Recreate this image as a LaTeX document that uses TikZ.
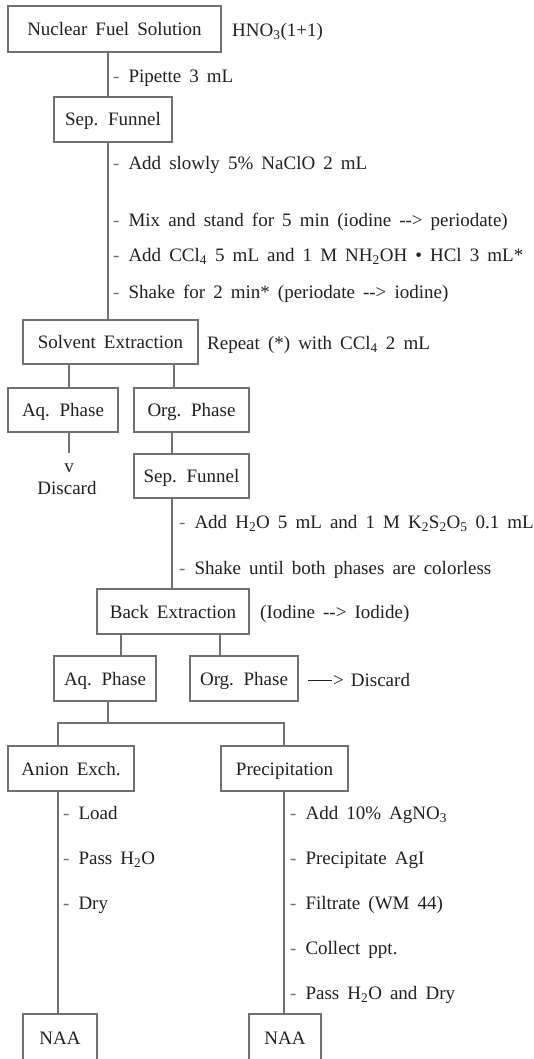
\documentclass[tikz,border=0pt]{standalone}
\usepackage{fontspec}
\setmainfont[WordSpace=1.7]{Liberation Serif}
\definecolor{linegray}{HTML}{707070}
\definecolor{txt}{HTML}{202020}
\definecolor{dashc}{HTML}{707070}
\newcommand\diagfont{\fontsize{19}{22}\selectfont}
\newcommand\stp[1]{\textcolor{dashc}{-}\hspace{9pt}#1}
\newcommand\sbs[1]{\textsubscript{#1}}
\begin{document}
\begin{tikzpicture}[x=1pt,y=-1pt,
  box/.style={draw=linegray, line width=1.2pt, rectangle, inner sep=0pt, text=txt, font=\diagfont, text height=17pt, text depth=4pt},
  lab/.style={anchor=west, inner sep=0pt, text=txt, font=\diagfont, text height=17pt, text depth=4pt},
  clab/.style={inner sep=0pt, text=txt, font=\diagfont, text height=17pt, text depth=4pt},
  conn/.style={draw=linegray, line width=1.2pt}]
\useasboundingbox (0,0) rectangle (534,1059);
% boxes
\node[box, minimum width=213, minimum height=46] (nfs) at (114.5,29) {Nuclear Fuel Solution};
\node[box, minimum width=118, minimum height=45] (sf1) at (113,119.5) {Sep. Funnel};
\node[box, minimum width=175, minimum height=44] (se) at (110.5,342) {Solvent Extraction};
\node[box, minimum width=110, minimum height=44] (aq1) at (63,410) {Aq. Phase};
\node[box, minimum width=115, minimum height=44] (org1) at (191.5,410) {Org. Phase};
\node[box, minimum width=115, minimum height=44] (sf2) at (191.5,476) {Sep. Funnel};
\node[box, minimum width=152, minimum height=45] (be) at (173,611.5) {Back Extraction};
\node[box, minimum width=102, minimum height=45] (aq2) at (105,678.5) {Aq. Phase};
\node[box, minimum width=108, minimum height=45] (org2) at (244,678.5) {Org. Phase};
\node[box, minimum width=126, minimum height=45] (ae) at (71,768.5) {Anion Exch.};
\node[box, minimum width=127, minimum height=45] (pr) at (284.5,768.5) {Precipitation\hspace{8pt}};
\node[box, minimum width=74, minimum height=48] (naa1) at (60,1038) {NAA};
\node[box, minimum width=72, minimum height=48] (naa2) at (285,1038) {NAA};
% side texts
\node[lab] (hno) at (232,30) {HNO\sbs{3}(1+1)};
\node[lab] (rep) at (207,343) {Repeat (*) with CCl\sbs{4} 2 mL};
\node[lab] (iod) at (260,612) {(Iodine -{}-> Iodide)};
\node[lab] (dis2) at (308,680) {\textcolor{txt}{\rule[5.5pt]{24pt}{1.1pt}}\kern1pt>\hspace{7pt}Discard};
\node[clab] (v) at (69,466) {v};
\node[clab] (dis1) at (67,488) {Discard};
% step labels
\node[lab] at (113,76) {\stp{Pipette 3 mL}};
\node[lab] at (113,163) {\stp{Add slowly 5\% NaClO 2 mL}};
\node[lab] at (113,220) {\stp{Mix and stand for 5 min (iodine -{}-> periodate)}};
\node[lab] at (113,255) {\stp{Add CCl\sbs{4} 5 mL and 1 M NH\sbs{2}OH • HCl 3 mL*}};
\node[lab] at (113,292) {\stp{Shake for 2 min* (periodate -{}-> iodine)}};
\node[lab] at (179,522) {\stp{Add H\sbs{2}O 5 mL and 1 M K\sbs{2}S\sbs{2}O\sbs{5} 0.1 mL}};
\node[lab] at (179,568) {\stp{Shake until both phases are colorless}};
\node[lab] at (63,813) {\stp{Load}};
\node[lab] at (63,858) {\stp{Pass H\sbs{2}O}};
\node[lab] at (63,903) {\stp{Dry}};
\node[lab] at (290,813) {\stp{Add 10\% AgNO\sbs{3}}};
\node[lab] at (290,858) {\stp{Precipitate AgI}};
\node[lab] at (290,903) {\stp{Filtrate (WM 44)}};
\node[lab] at (290,948) {\stp{Collect ppt.}};
\node[lab] at (290,993) {\stp{Pass H\sbs{2}O and Dry}};
% trunk coordinates
\coordinate (ta) at (108,0);
\coordinate (tb) at (69,0);
\coordinate (tc) at (174,0);
\coordinate (td) at (172,0);
\coordinate (te) at (121,0);
\coordinate (tf) at (220,0);
\coordinate (split) at (108,723);
\coordinate (th) at (58,0);
\coordinate (ti) at (284,0);
\coordinate (vend) at (69,453);
% connectors
\draw[conn] (nfs.south -| ta) -- (sf1.north -| ta);
\draw[conn] (sf1.south -| ta) -- (se.north -| ta);
\draw[conn] (se.south -| tb) -- (aq1.north -| tb);
\draw[conn] (se.south -| tc) -- (org1.north -| tc);
\draw[conn] (aq1.south -| tb) -- (vend);
\draw[conn] (org1.south -| td) -- (sf2.north -| td);
\draw[conn] (sf2.south -| td) -- (be.north -| td);
\draw[conn] (be.south -| te) -- (aq2.north -| te);
\draw[conn] (be.south -| tf) -- (org2.north -| tf);
\draw[conn] (aq2.south -| split) -- (split);
\draw[conn] (ae.north -| th) -- (split -| th) -- (split -| ti) -- (pr.north -| ti);
\draw[conn] (ae.south -| th) -- (naa1.north -| th);
\draw[conn] (pr.south -| ti) -- (naa2.north -| ti);
\end{tikzpicture}
\end{document}
